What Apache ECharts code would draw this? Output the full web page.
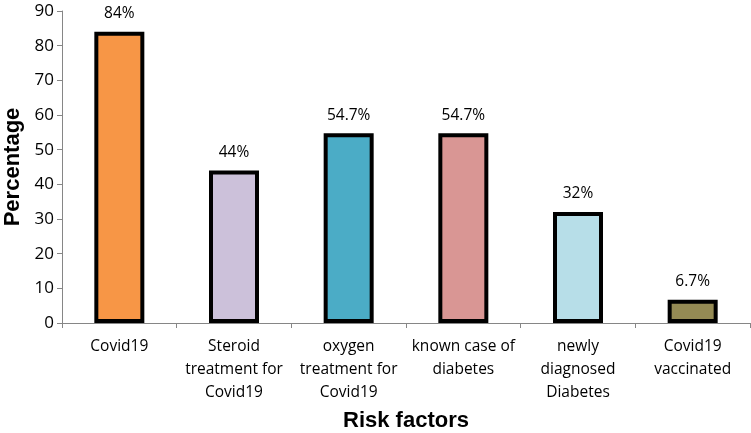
<!DOCTYPE html>
<html><head><meta charset="utf-8">
<script src="https://cdn.jsdelivr.net/npm/echarts@6/dist/echarts.min.js"></script>
<style>html,body{margin:0;padding:0;background:#fff}#c{width:751px;height:433px}</style>
</head><body><div id="c"></div>
<script>
const categories = ["Covid19", "Steroid\ntreatment for\nCovid19", "oxygen\ntreatment for\nCovid19", "known case of\ndiabetes", "newly\ndiagnosed\nDiabetes", "Covid19\nvaccinated"];
const values = [84, 44, 54.7, 54.7, 32, 6.7];
const labels = ["84%", "44%", "54.7%", "54.7%", "32%", "6.7%"];
const colors = ["#F79646", "#CCC1DA", "#4BACC6", "#D99694", "#B7DEE8", "#948A54"];

const chart = echarts.init(document.getElementById('c'));
chart.setOption({
  animation: false,
  grid: {left: 62, right: 1, top: 11, bottom: 110, containLabel: false, outerBoundsMode: 'none'},
  xAxis: {
    type: 'category', data: categories,
    name: 'Risk factors', nameLocation: 'middle', nameGap: 87,
    nameTextStyle: {fontFamily: 'Liberation Sans', fontWeight: 'bold', fontSize: 22, color: '#000'},
    axisLine: {lineStyle: {color: '#868686', width: 1}},
    axisTick: {show: true, length: 5, lineStyle: {color: '#868686'}},
    axisLabel: {fontFamily: 'Open Sans', fontSize: 15.5, color: '#000', lineHeight: 23, margin: 12, interval: 0}
  },
  yAxis: {
    type: 'value', min: 0, max: 90, interval: 10,
    name: 'Percentage', nameLocation: 'middle', nameGap: 37,
    nameTextStyle: {fontFamily: 'Liberation Sans', fontWeight: 'bold', fontSize: 22, color: '#000'},
    axisLine: {show: true, lineStyle: {color: '#868686', width: 1}},
    axisTick: {show: true, length: 5, lineStyle: {color: '#868686'}},
    splitLine: {show: false},
    axisLabel: {fontFamily: 'Open Sans', fontSize: 17, color: '#000', margin: 8}
  },
  series: [{
    type: 'bar', barWidth: 50,
    data: values.map((v, i) => ({value: v, itemStyle: {color: colors[i]}})),
    itemStyle: {borderColor: '#000', borderWidth: 4},
    label: {show: true, position: 'top', distance: 10, fontFamily: 'Open Sans', fontSize: 15.5, color: '#000',
      formatter: p => labels[p.dataIndex]}
  }]
});
</script></body></html>
